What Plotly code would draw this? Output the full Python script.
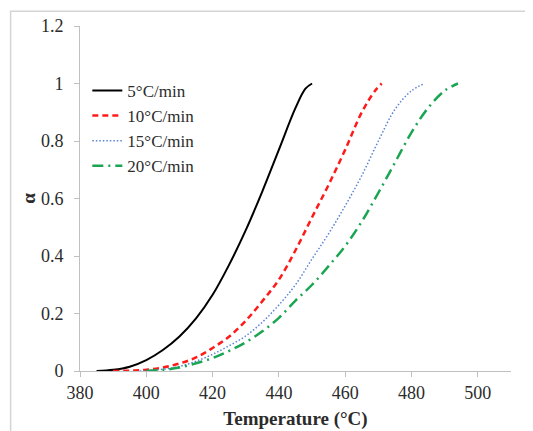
import plotly.graph_objects as go

# Data
t_5 = [385, 390, 395, 400, 405, 410, 415, 420, 425, 430, 435, 440, 445, 448, 450]
a_5 = [0, 0.004, 0.015, 0.038, 0.073, 0.12, 0.183, 0.265, 0.37, 0.49, 0.625, 0.77, 0.915, 0.982, 1.0]

t_10 = [390, 395, 400, 405, 410, 415, 420, 425, 430, 435, 440, 445, 450, 455, 460, 465, 469, 471]
a_10 = [0, 0.001, 0.004, 0.012, 0.026, 0.047, 0.08, 0.12, 0.175, 0.243, 0.318, 0.42, 0.535, 0.648, 0.77, 0.9, 0.975, 1.0]

t_15 = [398, 405, 410, 415, 420, 425, 430, 435, 440, 445, 450, 455, 460, 465, 470, 475, 480, 484]
a_15 = [0, 0.006, 0.016, 0.034, 0.058, 0.088, 0.122, 0.17, 0.23, 0.3, 0.39, 0.478, 0.575, 0.68, 0.8, 0.91, 0.975, 1.0]

t_20 = [400, 405, 410, 415, 420, 425, 430, 435, 440, 445, 450, 455, 460, 465, 470, 475, 480, 485, 490, 494]
a_20 = [0, 0.004, 0.012, 0.027, 0.045, 0.07, 0.1, 0.138, 0.185, 0.245, 0.30, 0.365, 0.435, 0.52, 0.62, 0.725, 0.83, 0.915, 0.975, 1.0]

series_names = ["5°C/min", "10°C/min", "15°C/min", "20°C/min"]
y_ticks = [0, 0.2, 0.4, 0.6, 0.8, 1.0, 1.2]
y_tick_text = ["0", "0.2", "0.4", "0.6", "0.8", "1", "1.2"]
x_ticks = [380, 400, 420, 440, 460, 480, 500]

serif = "Liberation Serif, Times New Roman, serif"
txt = "#2b2b2b"
axis_col = "#c0c0c0"

fig = go.Figure()
fig.add_trace(go.Scatter(x=t_5, y=a_5, name=series_names[0], mode="lines",
                         line=dict(color="black", width=2, shape="spline")))
fig.add_trace(go.Scatter(x=t_10, y=a_10, name=series_names[1], mode="lines",
                         line=dict(color="#ff1a1a", width=2.5, dash="6px,4px", shape="spline")))
fig.add_trace(go.Scatter(x=t_15, y=a_15, name=series_names[2], mode="lines",
                         line=dict(color="#5b84d4", width=1.5, dash="1.5px,2px", shape="spline")))
fig.add_trace(go.Scatter(x=t_20, y=a_20, name=series_names[3], mode="lines",
                         line=dict(color="#1aa552", width=2.5, dash="11px,5px,2px,5px", shape="spline")))

# page adds an 8px body margin, so the figure is 8px smaller and margins shifted
fig.update_layout(
    width=525, height=423,
    margin=dict(l=71.5, r=21.5, t=17.7, b=60, autoexpand=False),
    paper_bgcolor="white", plot_bgcolor="white",
    font=dict(family=serif, size=18, color=txt),
    showlegend=True,
    legend=dict(x=0.017, y=0.864, xanchor="left", yanchor="top",
                bgcolor="rgba(0,0,0,0)", font=dict(family=serif, size=17, color=txt),
                itemwidth=30, tracegroupgap=0),
    xaxis=dict(range=[380, 510], tickvals=x_ticks, showgrid=False, zeroline=False,
               showline=True, linecolor=axis_col, linewidth=1, automargin=False,
               ticks="outside", ticklen=5, tickcolor=axis_col, ticklabelstandoff=0,
               tickfont=dict(family=serif, size=18, color=txt),
               title=dict(text="<b>Temperature (°C)</b>", font=dict(family=serif, size=19, color=txt), standoff=10)),
    yaxis=dict(range=[0, 1.2], tickvals=y_ticks, ticktext=y_tick_text, showgrid=False, zeroline=False,
               showline=True, linecolor=axis_col, linewidth=1, automargin=False,
               ticks="outside", ticklen=5, tickcolor=axis_col, ticklabelstandoff=7,
               tickfont=dict(family=serif, size=18, color=txt),
               title=dict(text="<b>α</b>", font=dict(family=serif, size=19, color=txt), standoff=0)),
    shapes=[dict(type="rect", xref="paper", yref="paper",
                 x0=-0.161, x1=1.1, y0=-0.2, y1=1.0426,
                 line=dict(color="#d4d4d4", width=1.5), fillcolor="rgba(0,0,0,0)", layer="below")],
)

fig.write_html("out.html")
